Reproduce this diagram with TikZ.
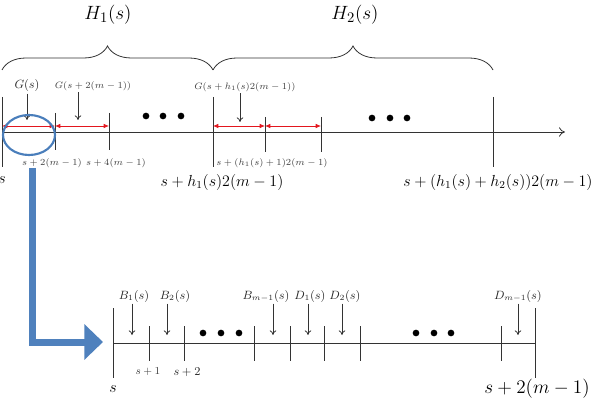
\documentclass[tikz,border=0pt]{standalone}
\usepackage{amsmath,amssymb}
\usepackage{tikz}
\usetikzlibrary{arrows.meta,positioning,shapes.geometric,calc,decorations.pathreplacing}
\definecolor{zoomblue}{HTML}{4F81BD}
\definecolor{ringblue}{HTML}{4A7EBB}
\definecolor{spanred}{HTML}{E3161E}

\begin{document}
\begin{tikzpicture}[x=0.75pt,y=-0.75pt,
			thinline/.style={black!80,line width=0.6pt},
			axisarr/.style={thinline,-{To[length=4.5pt,width=7pt]}},
			ptr/.style={thinline,-{To[length=3.5pt,width=5pt]}},
			span/.style={spanred,line width=0.6pt,{Latex[length=4pt,width=3.5pt]}-{Latex[length=4pt,width=3.5pt]}},
			hbrace/.style={thinline,decorate,decoration={brace,amplitude=18pt}},
			lbltiny/.style={font=\fontsize{7}{8}\selectfont,text=black!75,inner sep=1pt},
			lblmid/.style={font=\fontsize{9}{10}\selectfont,text=black!85,inner sep=1pt},
			lblbig/.style={font=\fontsize{12}{14}\selectfont,inner sep=1pt},
			lblhuge/.style={font=\fontsize{15}{18}\selectfont,inner sep=1pt},
			bigdot/.style={circle,fill=black,inner sep=0pt,minimum size=5pt},
			ring/.style={draw=ringblue,line width=1.6pt,ellipse,minimum width=39pt,minimum height=30pt,inner sep=0pt},
			zoomarr/.style={zoomblue,line width=5.25pt,-{Triangle[length=14pt,width=26pt]}}
			]
			\useasboundingbox (0,0) rectangle (597,410);
			% braces over the two blocks
			\node[lblhuge] (h1) at (108,15) {$H_1(s)$};
			\node[lblhuge] (h2) at (355,15) {$H_2(s)$};
			\draw[hbrace] (2,70) -- (213,70);
			\draw[hbrace] (213,70) -- (493,70);
			% upper axis
			\coordinate (a0) at (2,132);
			\coordinate (a1) at (55,132);
			\coordinate (a2) at (109,132);
			\coordinate (a3) at (213,132);
			\coordinate (a4) at (265,132);
			\coordinate (a5) at (321,132);
			\coordinate (aend) at (565,132);
			\draw[axisarr] (a0) -- (aend);
			\foreach \x in {2,213,493} \draw[thinline] (\x,97) -- (\x,167);
			\foreach \x in {55,109} \draw[thinline] (\x,113) -- (\x,150);
			\foreach \x in {265,321} \draw[thinline] (\x,117) -- (\x,152);
			\draw[span] ([yshift=4.5pt]a0) -- ([yshift=4.5pt]a1);
			\draw[span] ([yshift=4.5pt]a1) -- ([yshift=4.5pt]a2);
			\draw[span] ([yshift=4.5pt]a3) -- ([yshift=4.5pt]a4);
			\draw[span] ([yshift=4.5pt]a4) -- ([yshift=4.5pt]a5);
			\foreach \x in {146,163,181} \node[bigdot] at (\x,116) {};
			\foreach \x in {372,390,407} \node[bigdot] at (\x,118) {};
			% G labels
			\node[lblmid] (g1) at (27,86) {$G(s)$};
			\node[lbltiny] (g2) at (93,86) {$G(s+2(m-1))$};
			\node[lbltiny] (g3) at (245,87) {$G(s+h_1(s)2(m-1))$};
			\coordinate (gt1) at (27,120);
			\coordinate (gt2) at (78,120);
			\coordinate (gt3) at (240,122);
			\draw[ptr] (g1.south -| gt1) -- (gt1);
			\draw[ptr] (g2.south -| gt2) -- (gt2);
			\draw[ptr] (g3.south -| gt3) -- (gt3);
			% upper tick labels
			\node[lbltiny] (u1) at (52,163) {$s+2(m-1)$};
			\node[lbltiny] (u2) at (116,163) {$s+4(m-1)$};
			\node[lbltiny] (u3) at (272,163) {$s+(h_1(s)+1)2(m-1)$};
			\node[lblbig] (u0) at (2,180) {$s$};
			\node[lblbig] (u4) at (222,182) {$s+h_1(s)2(m-1)$};
			\node[lblbig] (u5) at (498,182) {$s+(h_1(s)+h_2(s))2(m-1)$};
			% zoom into the first block
			\node[ring] (zoom) at (29,135) {};
			\coordinate (zstart) at (32,168);
			\coordinate (ztip) at (103,342);
			\draw[zoomarr] (zstart) |- (ztip);
			% lower axis
			\coordinate (b0) at (113,343);
			\coordinate (bend) at (535,343);
			\draw[thinline] (b0) -- (bend);
			\foreach \x in {113,535} \draw[thinline] (\x,308) -- (\x,378);
			\foreach \x in {149,184,254,290,324,360,501} \draw[thinline] (\x,326) -- (\x,361);
			\foreach \x in {203,221,239,416,434,451} \node[bigdot] at (\x,333) {};
			% B and D labels
			\node[lblmid] (bb1) at (134,296) {$B_1(s)$};
			\node[lblmid] (bb2) at (175,296) {$B_2(s)$};
			\node[lblmid] (bbm) at (266,296) {$B_{m-1}(s)$};
			\node[lblmid] (dd1) at (310,296) {$D_1(s)$};
			\node[lblmid] (dd2) at (345,296) {$D_2(s)$};
			\node[lblmid] (ddm) at (518,296) {$D_{m-1}(s)$};
			\coordinate (bt1) at (132,335);
			\coordinate (bt2) at (167,335);
			\coordinate (btm) at (273,335);
			\coordinate (dt1) at (308,335);
			\coordinate (dt2) at (342,335);
			\coordinate (dtm) at (518,335);
			\draw[ptr] (bb1.south -| bt1) -- (bt1);
			\draw[ptr] (bb2.south -| bt2) -- (bt2);
			\draw[ptr] (bbm.south -| btm) -- (btm);
			\draw[ptr] (dd1.south -| dt1) -- (dt1);
			\draw[ptr] (dd2.south -| dt2) -- (dt2);
			\draw[ptr] (ddm.south -| dtm) -- (dtm);
			% lower tick labels
			\node[lbltiny,font=\fontsize{7.8}{9}\selectfont] (v1) at (148,372) {$s+1$};
			\node[lblmid] (v2) at (187,372) {$s+2$};
			\node[lblbig] (v0) at (113,389) {$s$};
			\node[lblbig,font=\fontsize{13.5}{16}\selectfont] (v3) at (537,389) {$s+2(m-1)$};
		\end{tikzpicture}
\end{document}
